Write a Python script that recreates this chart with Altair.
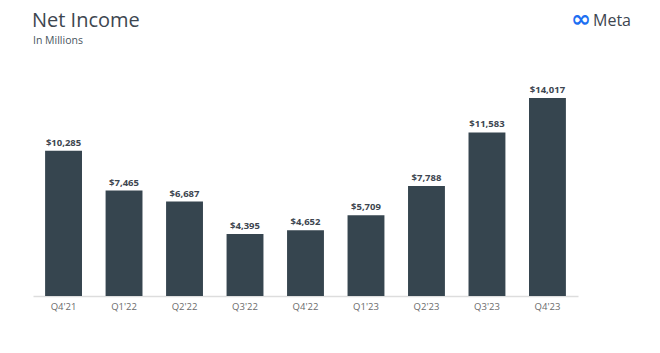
import altair as alt
import pandas as pd

quarters = ["Q4'21", "Q1'22", "Q2'22", "Q3'22", "Q4'22", "Q1'23", "Q2'23", "Q3'23", "Q4'23"]
net_income = [10285, 7465, 6687, 4395, 4652, 5709, 7788, 11583, 14017]

df = pd.DataFrame({"quarter": quarters, "value": net_income})
df["label"] = ["$" + f"{v:,}" for v in net_income]

FONT = "Open Sans"
BAR = "#36454f"
DARK = "#3d4650"

x = alt.X("quarter:N", sort=quarters, title=None,
          scale=alt.Scale(paddingInner=0.39, paddingOuter=0.2),
          axis=alt.Axis(labelAngle=0, ticks=False, domainColor="#dddddd", domainWidth=1.5,
                        labelColor="#6b6b6b", labelFont=FONT, labelFontSize=9.5, labelPadding=5))
y = alt.Y("value:Q", title=None, scale=alt.Scale(domain=[0, 16000]), axis=None)

bars = alt.Chart(df).mark_bar(color=BAR).encode(x=x, y=y)
labels = alt.Chart(df).mark_text(dy=-8, fontWeight="bold", font=FONT, fontSize=9.5,
                                 color=DARK).encode(x=x, y=y, text="label:N")

one = df.head(1)
title = alt.Chart(one).mark_text(text="Net Income", font=FONT, fontSize=20, color=DARK,
                                 align="left", baseline="alphabetic").encode(
    x=alt.value(-1), y=alt.value(-43))
subtitle = alt.Chart(one).mark_text(text="In Millions", font=FONT, fontSize=10.5, color="#4a5560",
                                    align="left", baseline="alphabetic").encode(
    x=alt.value(0), y=alt.value(-26))
logo_inf = alt.Chart(one).mark_text(text="∞", font="DejaVu Sans", fontSize=24, fontWeight="bold",
                                    color="#1d6ff2", align="left", baseline="middle").encode(
    x=alt.value(538), y=alt.value(-50))
logo_txt = alt.Chart(one).mark_text(text="Meta", font=FONT, fontSize=16, color=DARK,
                                    align="left", baseline="middle").encode(
    x=alt.value(560), y=alt.value(-49))

chart = alt.layer(bars, labels, title, subtitle, logo_inf, logo_txt).properties(
    width=545, height=226,
    background="white",
    autosize=alt.AutoSizeParams(type="none"),
    padding={"left": 33, "top": 70, "right": 82, "bottom": 57},
).configure_view(stroke=None)

chart.save("out.html", embed_options={"renderer": "svg", "actions": False})
